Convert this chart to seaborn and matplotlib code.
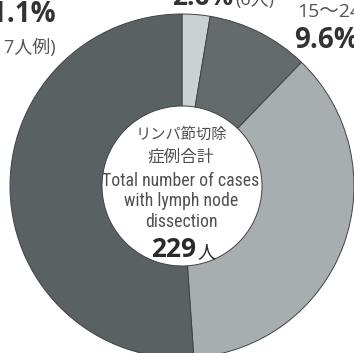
import matplotlib
matplotlib.use("Agg")
import matplotlib.pyplot as plt
import seaborn as sns
from matplotlib import font_manager as fm

# ---- data ----
segment_names = ["〜14 (top)", "15〜24", "その他", "25〜"]
case_counts = [6, 22, 84, 117]
percent_labels = ["2.6%", "9.6%", "36.7%", "51.1%"]
count_labels = ["(6人)", "(22人)", "(84人)", "(117人例)"]
total_cases = 229
center_jp = ["リンパ節切除", "症例合計"]
center_en = ["Total number of cases", "with lymph node", "dissection"]
slice_colors = ["#cbd0d0", "#656b6c", "#a8adaf", "#5a6163"]

sns.set_style("white")
names = {f.name for f in fm.fontManager.ttflist}

def pick(cands, default="DejaVu Sans"):
    for c in cands:
        if c in names:
            return c
    return default

COND = pick(["Roboto Condensed", "Liberation Sans Narrow", "DejaVu Sans Condensed", "Liberation Sans"])
LAT = pick(["Open Sans", "Liberation Sans", "DejaVu Sans"])
BOLD = pick(["Open Sans", "Roboto", "Liberation Sans"])
CJK = "Noto Sans CJK JP"
plt.rcParams["font.family"] = [LAT, CJK, "DejaVu Sans"]

W, H = 354, 353
fig = plt.figure(figsize=(W / 100, H / 100), dpi=100)
ax = fig.add_axes([0, 0, 1, 1])

palette = sns.color_palette(slice_colors)
ax.pie(case_counts, colors=palette, startangle=90, counterclock=False,
       center=(182, H - 186), radius=172,
       wedgeprops=dict(width=92, edgecolor="#3e4446", linewidth=0.7))
ax.set_xlim(0, W)
ax.set_ylim(0, H)
ax.set_aspect("auto")
ax.axis("off")

def T(x, y, s, **kw):
    ax.text(x, H - y, s, **kw)

lab_col = "#333333"
cen_col = "#505050"

# top label 2.6% (6人) (mostly above the visible area, as in the reference)
T(233, 5, percent_labels[0], ha="right", va="baseline", fontsize=19,
  fontweight="bold", family=[BOLD, CJK], color=lab_col)
T(235, 5, count_labels[0], ha="left", va="baseline", fontsize=13,
  family=[LAT, CJK], color="#555555")

# right label 15〜24 / 9.6%
T(297, 17, segment_names[1], ha="left", va="baseline", fontsize=14,
  family=[LAT, CJK], color="#555555")
T(294, 48, percent_labels[1], ha="left", va="baseline", fontsize=20,
  fontweight="bold", family=[BOLD, CJK], color=lab_col)

# left label 51.1% / (117人例)
T(56, 22, percent_labels[3], ha="right", va="baseline", fontsize=20,
  fontweight="bold", family=[BOLD, CJK], color=lab_col)
T(56, 53, count_labels[3], ha="right", va="baseline", fontsize=13,
  family=[LAT, CJK], color="#555555")

# center text
cx = 181
T(cx, 139, center_jp[0], ha="center", va="baseline", fontsize=11,
  family=[CJK], color=cen_col)
T(cx, 162, center_jp[1], ha="center", va="baseline", fontsize=12,
  family=[CJK], color=cen_col)
for s, yb in zip(center_en, [186, 206, 227]):
    T(cx, yb, s, ha="center", va="baseline", fontsize=12.8,
      family=[COND, CJK], color=cen_col)
T(196, 257, str(total_cases), ha="right", va="baseline", fontsize=19,
  fontweight="bold", family=[BOLD, CJK], color="#2a2a2a")
T(197, 257, "人", ha="left", va="baseline", fontsize=13,
  family=[CJK], color="#2a2a2a")

fig.savefig("out.png", dpi=100)
